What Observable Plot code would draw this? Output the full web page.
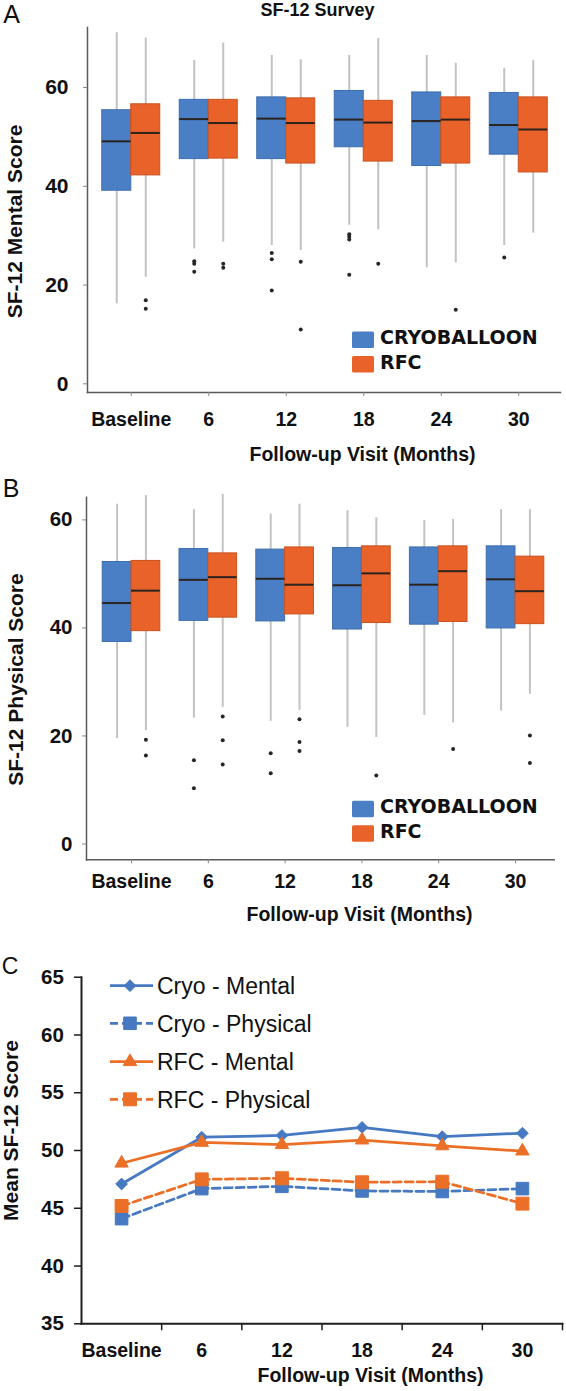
<!DOCTYPE html>
<html>
<head>
<meta charset="utf-8">
<script src="https://cdn.jsdelivr.net/npm/d3@7"></script>
<script src="https://cdn.jsdelivr.net/npm/@observablehq/plot@0.6"></script>
<style>
  html, body { margin: 0; padding: 0; background: #fff; }
  #root { position: relative; width: 566px; height: 1391px; overflow: hidden; background: #fff; }
  #root svg { position: absolute; left: 0; overflow: visible; }
</style>
</head>
<body>
<div id="root"></div>
<script>
// ---------------- DATA ----------------
const visits = ["Baseline", "6", "12", "18", "24", "30"];

// Box statistics per visit: [lower whisker, Q1, median, Q3, upper whisker]
const cryoMental = [
  [16.2, 39.1, 49.1, 55.4, 71.1],
  [27.3, 45.5, 53.6, 57.5, 65.5],
  [28.0, 45.5, 53.7, 58.0, 66.5],
  [32.1, 47.9, 53.5, 59.3, 66.5],
  [23.5, 44.1, 53.2, 59.0, 66.5],
  [28.0, 46.4, 52.4, 58.9, 63.9]
];
const rfcMental = [
  [21.6, 42.2, 50.8, 56.6, 70.0],
  [28.7, 45.6, 52.8, 57.5, 69.0],
  [27.0, 44.6, 52.8, 57.8, 65.6],
  [31.2, 45.0, 52.9, 57.3, 69.9],
  [24.5, 44.6, 53.5, 58.0, 64.9],
  [30.5, 42.8, 51.5, 58.0, 65.5]
];
const cryoMentalOutliers = [[], [24.8, 24.3, 22.7], [26.5, 25.2, 18.9], [30.3, 29.8, 29.2, 22.1], [], [25.6]];
const rfcMentalOutliers  = [[16.9, 15.2], [24.3, 23.5], [24.7, 11.0], [24.3], [15.0], []];

const cryoPhysical = [
  [19.5, 37.4, 44.6, 52.2, 62.9],
  [23.3, 41.3, 48.9, 54.6, 61.9],
  [22.7, 41.2, 49.1, 54.5, 61.1],
  [21.6, 39.7, 47.9, 54.8, 61.7],
  [23.8, 40.6, 48.0, 54.9, 59.9],
  [24.6, 39.9, 49.0, 55.1, 61.9]
];
const rfcPhysical = [
  [21.0, 39.4, 46.9, 52.4, 64.5],
  [25.3, 41.9, 49.4, 53.8, 64.7],
  [24.7, 42.5, 48.0, 54.9, 62.9],
  [19.7, 40.9, 50.1, 55.1, 60.4],
  [22.4, 41.1, 50.5, 55.1, 60.1],
  [27.7, 40.7, 46.8, 53.2, 61.9]
];
const cryoPhysicalOutliers = [[], [15.5, 10.3], [16.8, 13.1], [], [], []];
const rfcPhysicalOutliers  = [[19.3, 16.4], [23.6, 19.2, 14.7], [23.1, 18.9, 17.2], [12.7], [17.6], [20.1, 15.0]];

// Panel C: mean SF-12 scores
const cryoMentalMean   = [47.1, 51.15, 51.3, 52.0, 51.2, 51.5];
const cryoPhysicalMean = [44.1, 46.7, 46.9, 46.5, 46.45, 46.7];
const rfcMentalMean    = [48.9, 50.7, 50.5, 50.9, 50.4, 49.95];
const rfcPhysicalMean  = [45.2, 47.5, 47.6, 47.25, 47.3, 45.4];

const groupNames = ["CRYOBALLOON", "RFC"];
const seriesNames = ["Cryo - Mental", "Cryo - Physical", "RFC - Mental", "RFC - Physical"];

// ---------------- STYLE ----------------
const W = 566;
const FONT = "'Liberation Sans', Arial, sans-serif";
const BLUE = "#4a7fc6", BLUE_EDGE = "#3d6eae";
const ORANGE = "#e8622a", ORANGE_EDGE = "#c9521f";
const C_BLUE = "#4679c1", C_ORANGE = "#ec6f28";
const INK = "#111";

const root = document.getElementById("root");

function label(txt, px, py, frame, opts) {
  return Plot.text([txt], {
    text: d => d, frameAnchor: "top-left",
    textAnchor: "middle", lineAnchor: "middle",
    dx: px - frame.ml, dy: (py - frame.top) - frame.mt,
    fill: INK, ...opts
  });
}

function boxPanel(cfg) {
  const f = cfg;
  const step = (f.c5 - f.c0) / (visits.length - 1);
  const xDomain = [(f.ml - f.c0) / step, (W - f.mr - f.c0) / step];
  const half = f.boxW / step;
  const rows = visits.flatMap((v, i) => [{i, g: 0, s: f.cryo[i]}, {i, g: 1, s: f.rfc[i]}]);
  const outs = [
    ...f.cryoOut.flatMap((a, i) => a.map(v => ({i, g: 0, v}))),
    ...f.rfcOut.flatMap((a, i) => a.map(v => ({i, g: 1, v})))
  ];
  const x1 = d => d.g === 0 ? d.i - half : d.i;
  const x2 = d => d.g === 0 ? d.i : d.i + half;
  const xm = d => d.g === 0 ? d.i - half / 2 : d.i + half / 2;

  const svg = Plot.plot({
    width: W, height: f.height,
    marginTop: f.mt, marginBottom: f.mb, marginLeft: f.ml, marginRight: f.mr,
    x: {type: "linear", domain: xDomain},
    y: {domain: f.yDomain},
    style: {fontFamily: FONT, background: "transparent", overflow: "visible", color: INK},
    marks: [
      Plot.ruleX(rows, {x: xm, y1: d => d.s[0], y2: d => d.s[4], stroke: "#c2c2c2", strokeWidth: 2}),
      Plot.rect(rows.filter(d => d.g === 0), {x1, x2, y1: d => d.s[1], y2: d => d.s[3], fill: BLUE, stroke: BLUE_EDGE, strokeWidth: 1}),
      Plot.rect(rows.filter(d => d.g === 1), {x1, x2, y1: d => d.s[1], y2: d => d.s[3], fill: ORANGE, stroke: ORANGE_EDGE, strokeWidth: 1}),
      Plot.ruleY(rows, {x1, x2, y: d => d.s[2], stroke: "#2b231d", strokeWidth: 2}),
      Plot.dot(outs, {x: xm, y: "v", r: 2, fill: "#262626", stroke: null}),
      Plot.frame({anchor: "left", stroke: "#5a5a5a", strokeWidth: 1.5}),
      Plot.frame({anchor: "bottom", stroke: "#5a5a5a", strokeWidth: 1.5}),
      Plot.axisY({ticks: [0, 20, 40, 60], tickSize: 4, tickPadding: f.yTickPad, fontSize: f.yFont, fontWeight: "bold", fill: INK, stroke: "#888", label: null}),
      Plot.axisX({ticks: d3.range(visits.length), tickFormat: i => visits[i], tickSize: 4, tickPadding: f.xTickPad, fontSize: 19.5, fontWeight: "bold", fill: INK, stroke: "#888", label: null}),
      ...f.texts.map(t => label(t.text, t.x, t.y, f, t.opts))
    ]
  });
  svg.style.top = f.top + "px";
  root.appendChild(svg);
}

// Panel A
boxPanel({
  top: 0, height: 465, mt: 27, mb: 73, ml: 87, mr: 6,
  c0: 130.75, c5: 518.25, boxW: 29,
  yDomain: [-1.76, 72.15], yTickPad: 15, yFont: 21, xTickPad: 15.7,
  cryo: cryoMental, rfc: rfcMental, cryoOut: cryoMentalOutliers, rfcOut: rfcMentalOutliers,
  texts: [
    {text: "A", x: 11, y: 14, opts: {fontSize: 25}},
    {text: "SF-12 Survey", x: 317, y: 9.5, opts: {fontSize: 18, fontWeight: "bold"}},
    {text: "SF-12 Mental Score", x: 14.5, y: 221, opts: {fontSize: 21, fontWeight: "bold", rotate: -90}},
    {text: "Follow-up Visit (Months)", x: 362, y: 454, opts: {fontSize: 19.5, fontWeight: "bold"}}
  ]
});

// Panel B
boxPanel({
  top: 465, height: 455, mt: 31.7, mb: 60.7, ml: 86, mr: 12.3,
  c0: 131, c5: 515, boxW: 28.8,
  yDomain: [-2.93, 64.2], yTickPad: 10, yFont: 20.5, xTickPad: 10.5,
  cryo: cryoPhysical, rfc: rfcPhysical, cryoOut: cryoPhysicalOutliers, rfcOut: rfcPhysicalOutliers,
  texts: [
    {text: "B", x: 10.5, y: 488.5, opts: {fontSize: 25}},
    {text: "SF-12 Physical Score", x: 16, y: 679, opts: {fontSize: 21, fontWeight: "bold", rotate: -90}},
    {text: "Follow-up Visit (Months)", x: 359, y: 914, opts: {fontSize: 19.5, fontWeight: "bold"}}
  ]
});

// Panel C
const seriesStyle = [
  {color: C_BLUE, dash: null, symbol: "diamond2", r: 5.3},
  {color: C_BLUE, dash: "8,4", symbol: "square", r: 7.1},
  {color: C_ORANGE, dash: null, symbol: "triangle", r: 5.0},
  {color: C_ORANGE, dash: "8,4", symbol: "square", r: 7.3}
];
const seriesValues = [cryoMentalMean, cryoPhysicalMean, rfcMentalMean, rfcPhysicalMean];
(function () {
  const f = {top: 920, height: 471, mt: 56.7, mb: 67.7, ml: 81, mr: 4};
  const marks = [];
  seriesValues.forEach((vals, k) => {
    const st = seriesStyle[k];
    const pts = vals.map((v, i) => ({i, v, s: seriesNames[k]}));
    marks.push(Plot.line(pts, {x: "i", y: "v", stroke: st.color, strokeWidth: 2.75, strokeDasharray: st.dash}));
    marks.push(Plot.dot(pts, {x: "i", y: "v", symbol: st.symbol, r: st.r, fill: st.color, stroke: st.color, strokeWidth: 1}));
  });
  const svg = Plot.plot({
    width: W, height: f.height,
    marginTop: f.mt, marginBottom: f.mb, marginLeft: f.ml, marginRight: f.mr,
    x: {type: "linear", domain: [-0.5, visits.length - 0.5]},
    y: {domain: [35, 65]},
    style: {fontFamily: FONT, background: "transparent", overflow: "visible", color: INK},
    marks: [
      ...marks,
      Plot.frame({anchor: "left", stroke: "#1e1e1e", strokeWidth: 2}),
      Plot.frame({anchor: "bottom", stroke: "#1e1e1e", strokeWidth: 2}),
      Plot.axisY({ticks: d3.range(35, 66, 5), tickSize: 7, tickPadding: 10.7, fontSize: 20.5, fontWeight: "bold", fill: INK, stroke: "#1e1e1e", strokeWidth: 1.5, label: null}),
      Plot.axisX({ticks: d3.range(visits.length), tickFormat: i => visits[i], tickSize: 0, tickPadding: 19.6, fontSize: 19.5, fontWeight: "bold", fill: INK, label: null}),
      Plot.axisX({ticks: d3.range(visits.length).map(i => i + 0.5), tickFormat: () => "", tickSize: 7, stroke: "#1e1e1e", strokeWidth: 1.5, label: null}),
      label("C", 9.5, 966, f, {fontSize: 23}),
      label("Mean SF-12 Score", 10.5, 1130, f, {fontSize: 21, fontWeight: "bold", rotate: -90}),
      label("Follow-up Visit (Months)", 370, 1375, f, {fontSize: 19.5, fontWeight: "bold"})
    ]
  });
  svg.style.top = f.top + "px";
  root.appendChild(svg);
})();

// ---------------- LEGENDS (overlay) ----------------
const leg = d3.create("svg").attr("width", W).attr("height", 1391)
  .style("top", "0px").style("pointer-events", "none");

function boxLegend(y0) {
  const colors = [BLUE, ORANGE];
  const rowsY = [y0, y0 + 24.5];
  groupNames.forEach((name, k) => {
    leg.append("rect").attr("x", 352).attr("y", rowsY[k]).attr("width", 22).attr("height", 16.5)
      .attr("rx", 1.5).attr("fill", colors[k]);
    leg.append("text").attr("x", 380).attr("y", rowsY[k] + 12.5)
      .attr("font-family", "'DejaVu Sans', sans-serif").attr("font-weight", "bold")
      .attr("font-size", 19).attr("fill", "#111").text(name);
  });
}
boxLegend(331.5);
boxLegend(800.8);

const rowY = [985.7, 1023.3, 1061.7, 1099.3];
seriesNames.forEach((name, k) => {
  const st = seriesStyle[k];
  const y = rowY[k];
  leg.append("line").attr("x1", 110).attr("x2", 153).attr("y1", y).attr("y2", y)
    .attr("stroke", st.color).attr("stroke-width", 2.75)
    .attr("stroke-dasharray", st.dash);
  const sym = d3.symbol().type({diamond2: d3.symbolDiamond2, square: d3.symbolSquare, triangle: d3.symbolTriangle}[st.symbol])
    .size(Math.PI * st.r * st.r);
  leg.append("path").attr("d", sym()).attr("transform", `translate(130,${y})`)
    .attr("fill", st.color).attr("stroke", st.color);
  leg.append("text").attr("x", 157).attr("y", y + 8.2)
    .attr("font-family", FONT).attr("font-size", 23).attr("fill", "#111").text(name);
});
root.appendChild(leg.node());
</script>
</body>
</html>
